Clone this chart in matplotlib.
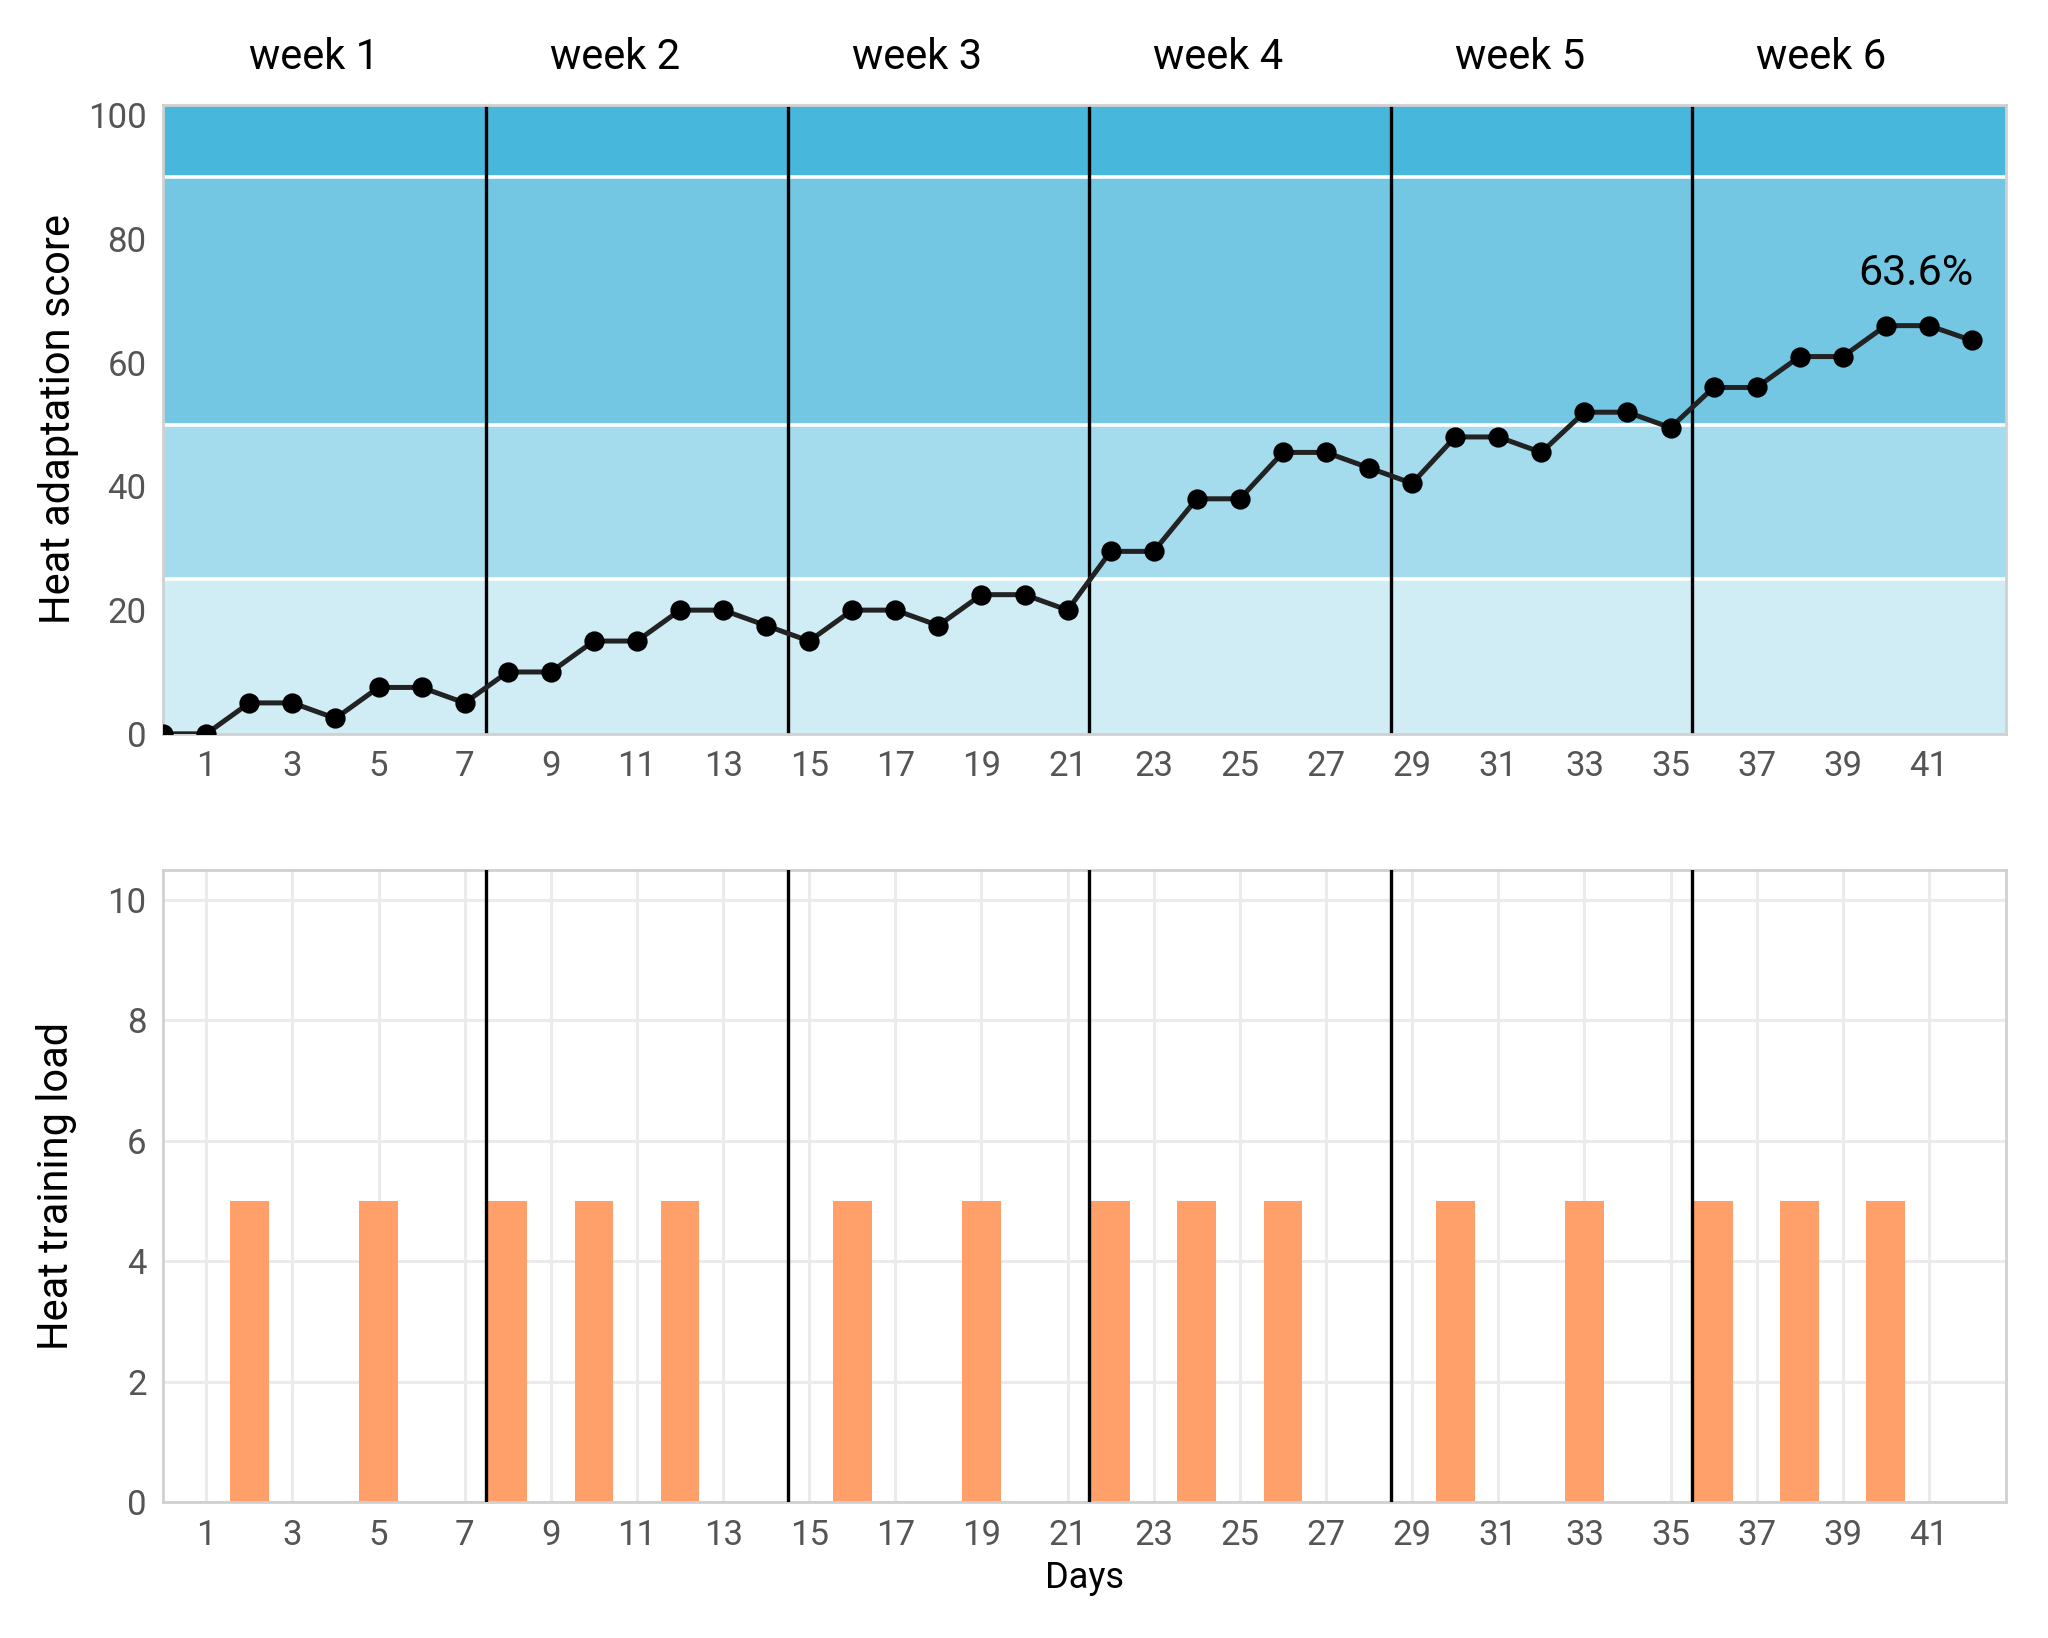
import matplotlib
matplotlib.use("Agg")
import matplotlib.pyplot as plt

plt.rcParams['font.family'] = ['Roboto', 'DejaVu Sans']

# --- data ---
days = list(range(0, 43))
score = [0, 0, 5, 5, 2.5, 7.5, 7.5, 5, 10, 10, 15, 15, 20, 20, 17.5, 15,
         20, 20, 17.5, 22.5, 22.5, 20, 29.5, 29.5, 38, 38, 45.5, 45.5, 43,
         40.5, 48, 48, 45.5, 52, 52, 49.5, 56, 56, 61, 61, 66, 66, 63.6]
load_days = [2, 5, 8, 10, 12, 16, 19, 22, 24, 26, 30, 33, 36, 38, 40]
load_vals = [5] * len(load_days)
week_breaks = [7.5, 14.5, 21.5, 28.5, 35.5]
week_labels = ["week 1", "week 2", "week 3", "week 4", "week 5", "week 6"]
week_centers = [3.5, 10.5, 17.5, 24.5, 31.5, 38.5]
bands = [(0, 25, "#d0ecf4"), (25, 50, "#a4dbed"), (50, 90, "#73c7e3"), (90, 105, "#48b7dc")]
xticks = list(range(1, 42, 2))

fig = plt.figure(figsize=(10.24, 8.19), dpi=200)
ax1 = fig.add_axes([0.0797, 0.552, 0.9, 0.384])
ax2 = fig.add_axes([0.0797, 0.083, 0.9, 0.386])

xlim = (0, 42.8)
tick_col = "#555555"
frame_col = "#d0d0d0"

# --- top: adaptation score ---
for lo, hi, c in bands:
    ax1.axhspan(lo, hi, color=c, lw=0, zorder=0)
for y in (25, 50, 90):
    ax1.axhline(y, color="white", lw=1.3, zorder=1)
for xb in week_breaks:
    ax1.axvline(xb, color="black", lw=1.2, zorder=2)
ax1.plot(days, score, color="#222222", lw=1.8, marker="o", ms=6.3,
         mfc="black", mec="black", zorder=3, clip_on=True)
ax1.text(40.7, 74.5, f"{score[-1]}%", fontsize=15.5, ha="center", va="center",
         color="black")
ax1.set_xlim(*xlim)
ax1.set_ylim(0, 101.7)
ax1.set_yticks([0, 20, 40, 60, 80, 100])
ax1.set_xticks(xticks)
ax1.set_ylabel("Heat adaptation score", fontsize=15, labelpad=3)
for xc, lab in zip(week_centers, week_labels):
    ax1.text(xc, 1.075, lab, transform=ax1.get_xaxis_transform(),
             ha="center", va="center", fontsize=15)

# --- bottom: training load ---
ax2.grid(True, color="#ebebeb", lw=1.1, zorder=0)
ax2.set_axisbelow(True)
ax2.bar(load_days, load_vals, width=0.9, color="#ffa06a", zorder=2)
for xb in week_breaks:
    ax2.axvline(xb, color="black", lw=1.2, zorder=3)
ax2.set_xlim(*xlim)
ax2.set_ylim(0, 10.5)
ax2.set_yticks([0, 2, 4, 6, 8, 10])
ax2.set_xticks(xticks)
ax2.set_ylabel("Heat training load", fontsize=15, labelpad=11)
ax2.set_xlabel("Days", fontsize=13, labelpad=3)

for ax in (ax1, ax2):
    ax.tick_params(length=0, labelsize=12.5, labelcolor=tick_col, pad=6)
    for s in ax.spines.values():
        s.set_color(frame_col)
        s.set_linewidth(1.0)

fig.savefig("out.png", dpi=200)
